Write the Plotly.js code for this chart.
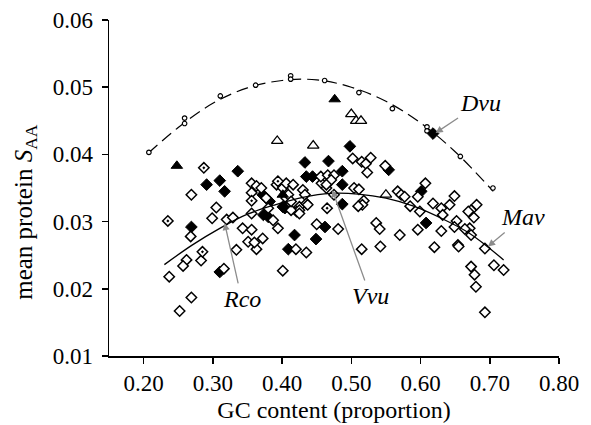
<!DOCTYPE html>
<html>
<head>
<meta charset="utf-8">
<script src="https://cdn.plot.ly/plotly-3.0.1.min.js"></script>
<style>html,body{margin:0;padding:0;background:#fff}#chart{width:591px;height:425px}</style>
</head>
<body>
<div id="chart"></div>
<script>
// open diamonds
const openX = [0.269,0.305,0.356,0.363,0.370,0.356,0.377,0.387,0.392,0.401,0.406,0.416,0.406,0.430,0.433,0.425,0.435,0.457,0.464,0.421,0.456,0.466,0.475,0.471,0.464,0.504,0.511,0.518,0.516,0.475,0.437,0.425,0.502,0.515,0.528,0.521,0.523,0.549,0.510,0.567,0.572,0.596,0.607,0.585,0.599,0.618,0.630,0.649,0.642,0.681,0.673,0.669,0.677,0.652,0.632,0.630,0.649,0.671,0.673,0.664,0.693,0.706,0.720,0.673,0.678,0.680,0.693,0.654,0.655,0.620,0.570,0.596,0.542,0.536,0.541,0.515,0.481,0.450,0.435,0.420,0.401,0.394,0.372,0.363,0.334,0.351,0.360,0.343,0.356,0.356,0.320,0.329,0.299,0.283,0.262,0.257,0.237,0.269,0.252,0.425,0.413,0.409,0.413,0.380,0.316,0.268,0.577];
const openY = [0.0340,0.0321,0.0357,0.0353,0.0350,0.0343,0.0335,0.0302,0.0355,0.0350,0.0357,0.0355,0.0335,0.0347,0.0340,0.0322,0.0327,0.0357,0.0350,0.0315,0.0367,0.0369,0.0369,0.0362,0.0355,0.0350,0.0348,0.0331,0.0325,0.0340,0.0325,0.0317,0.0394,0.0389,0.0395,0.0386,0.0373,0.0383,0.0323,0.0345,0.0340,0.0337,0.0357,0.0323,0.0315,0.0327,0.0320,0.0338,0.0325,0.0325,0.0317,0.0315,0.0306,0.0301,0.0310,0.0286,0.0292,0.0290,0.0280,0.0289,0.0260,0.0235,0.0228,0.0233,0.0221,0.0203,0.0165,0.0265,0.0263,0.0262,0.0280,0.0288,0.0263,0.0298,0.0289,0.0259,0.0289,0.0296,0.0254,0.0259,0.0227,0.0290,0.0275,0.0259,0.0258,0.0270,0.0269,0.0290,0.0288,0.0312,0.0303,0.0306,0.0305,0.0242,0.0243,0.0234,0.0218,0.0187,0.0167,0.0312,0.0317,0.0340,0.0330,0.0320,0.0230,0.0278,0.0337];
// filled diamonds
const fillX = [0.291,0.310,0.317,0.336,0.433,0.435,0.444,0.467,0.498,0.487,0.487,0.487,0.554,0.618,0.372,0.382,0.404,0.373,0.380,0.418,0.409,0.449,0.462,0.310,0.269,0.601,0.608,0.401];
const fillY = [0.0355,0.0361,0.0345,0.0375,0.0388,0.0367,0.0367,0.0390,0.0412,0.0375,0.0355,0.0326,0.0377,0.0431,0.0340,0.0330,0.0320,0.0310,0.0307,0.0280,0.0259,0.0274,0.0292,0.0225,0.0292,0.0345,0.0298,0.0322];
// diamonds with a central dot
const dotX = [0.287,0.235,0.285,0.356,0.465,0.394];
const dotY = [0.0380,0.0301,0.0255,0.0331,0.0320,0.0360];
// triangles
const triFillX = [0.248,0.476,0.401];
const triFillY = [0.0383,0.0482,0.0340];
const triOpenX = [0.393,0.445,0.500,0.507,0.514,0.550];
const triOpenY = [0.0420,0.0413,0.0460,0.0450,0.0450,0.0340];
// small circles on the upper curve
const circX = [0.2076,0.2592,0.2592,0.3108,0.3618,0.4124,0.4124,0.4615,0.5110,0.5593,0.6093,0.6093,0.6575,0.7046];
const circY = [0.0403,0.0454,0.0446,0.0487,0.0503,0.0517,0.0512,0.0510,0.0492,0.0468,0.0441,0.0435,0.0397,0.0350];
// fitted curves
const dashX = [0.207,0.25,0.30,0.35,0.40,0.45,0.50,0.55,0.60,0.65,0.705];
const dashY = [0.0402,0.0440,0.0476,0.0499,0.0510,0.0511,0.0500,0.0479,0.0447,0.0404,0.0345];
const solidX = [0.23,0.27,0.31,0.35,0.39,0.43,0.47,0.51,0.55,0.59,0.63,0.67,0.72];
const solidY = [0.0236,0.0265,0.0290,0.0311,0.0325,0.0336,0.0342,0.0341,0.0335,0.0323,0.0305,0.0283,0.0243];
// labelled genomes
const labNames = ['Dvu','Mav','Vvu','Rco'];
const labX = [0.6218,0.6974,0.4726,0.3170];
const labY = [0.0432,0.0263,0.0347,0.0298];
// axis titles
const xTitle = 'GC content (proportion)';
const yTitle = 'mean protein <i>S</i><sub>AA</sub>';

const FONT = 'Liberation Serif, Times New Roman, serif';
const traces = [
  {x: fillX, y: fillY, mode:'markers', type:'scatter', marker:{symbol:'diamond', size:9, color:'#000', line:{color:'#000', width:1}}},
  {x: openX, y: openY, mode:'markers', type:'scatter', marker:{symbol:'diamond', size:8, color:'#fff', line:{color:'#000', width:1.5}}},
  {x: dotX, y: dotY, mode:'markers', type:'scatter', marker:{symbol:'diamond-dot', size:8, color:'#fff', line:{color:'#000', width:1.5}}},
  {x: triOpenX, y: triOpenY, mode:'markers', type:'scatter', marker:{symbol:'triangle-up', size:10, color:'#fff', line:{color:'#000', width:1.3}}},
  {x: triFillX, y: triFillY, mode:'markers', type:'scatter', marker:{symbol:'triangle-up', size:10, color:'#000', line:{color:'#000', width:1}}},
  {x: dashX, y: dashY, mode:'lines', type:'scatter', line:{shape:'spline', color:'#000', width:1.2, dash:'12px,6px'}},
  {x: solidX, y: solidY, mode:'lines', type:'scatter', line:{shape:'spline', color:'#000', width:1.3}},
  {x: circX, y: circY, mode:'markers', type:'scatter', marker:{symbol:'circle', size:4.5, color:'#fff', line:{color:'#000', width:1.2}}}
];

// label text centre offsets (px) from the pointed point; arrow runs from text box to point
const textOff = [[45,-30],[35,-29],[38,106],[17,76]];
const annotations = labNames.map((n,i)=>({
  x: labX[i], y: labY[i], xref:'x', yref:'y', text:'<i>'+n+'</i>', showarrow:true,
  ax: textOff[i][0], ay: textOff[i][1], arrowcolor:'#8c8c8c', arrowwidth:1.3, arrowhead:2, arrowsize:1.1,
  standoff:0, startstandoff:1, font:{family:FONT, size:24, color:'#000'}
}));
// y-axis title as a rotated annotation (sits slightly below the plot centre in the reference)
annotations.push({xref:'paper', yref:'paper', x:-0.186, y:0.43, xanchor:'center', yanchor:'middle',
  textangle:-90, showarrow:false, text:yTitle, font:{family:FONT, size:25, color:'#000'}});

const layout = {
  width:591, height:425,
  margin:{l:109, r:32, t:20, b:69},
  paper_bgcolor:'#fff', plot_bgcolor:'#fff',
  showlegend:false,
  font:{family:FONT, size:23, color:'#000'},
  xaxis:{range:[0.15,0.80], tick0:0.2, dtick:0.1, tickformat:'.2f', showgrid:false, zeroline:false,
    showline:true, linecolor:'#000', linewidth:1.5, ticks:'outside', ticklen:6, tickwidth:1.5, tickcolor:'#000',
    tickfont:{family:FONT, size:23},
    title:{text:xTitle, font:{family:FONT, size:24}, standoff:6}},
  yaxis:{range:[0.01,0.06], tick0:0.01, dtick:0.01, tickformat:'.2f', showgrid:false, zeroline:false,
    showline:true, linecolor:'#000', linewidth:1.5, ticks:'outside', ticklen:6, tickwidth:1.5, tickcolor:'#000',
    tickfont:{family:FONT, size:23}, ticklabelstandoff:4},
  annotations: annotations
};
Plotly.newPlot('chart', traces, layout, {staticPlot:true, displayModeBar:false});
</script>
</body>
</html>
